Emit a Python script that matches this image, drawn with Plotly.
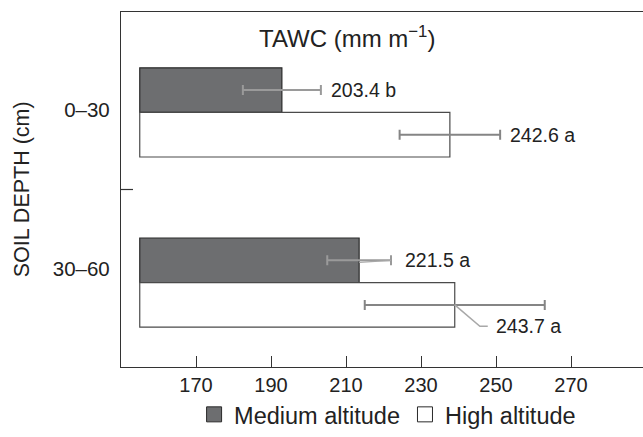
import plotly.graph_objects as go

# ---- data ----
depths = ["0–30", "30–60"]
medium_end = [192.9, 213.5]      # right edge of the dark bars (axis units)
high_end = [237.7, 239.0]        # right edge of the white bars
medium_err = [10.4, 8.5]
high_err = [13.4, 24.0]
medium_labels = ["203.4 b", "221.5 a"]
high_labels = ["242.6 a", "243.7 a"]
bar_base = 155
x_ticks = [170, 190, 210, 230, 250, 270]

# ---- layout constants ----
FONT = "Liberation Sans, Arial, sans-serif"
TXT = "#222222"
BARGAP = 0.476
half = (1 - BARGAP) / 2 / 2      # offset of each bar centre from group centre
groups = list(range(len(depths)))
y_med = [g - half for g in groups]
y_high = [g + half for g in groups]

fig = go.Figure()

fig.add_trace(go.Bar(
    orientation="h", y=groups, x=[e - bar_base for e in medium_end], base=bar_base,
    marker=dict(color="#6d6e70", line=dict(color="#2a2a2a", width=1.2)),
    showlegend=False, name="Medium altitude"))
fig.add_trace(go.Bar(
    orientation="h", y=groups, x=[e - bar_base for e in high_end], base=bar_base,
    marker=dict(color="#ffffff", line=dict(color="#4a4a4a", width=1.2)),
    showlegend=False, name="High altitude"))

# error bars centred on the bar ends
fig.add_trace(go.Scatter(
    x=medium_end, y=y_med, mode="markers", marker=dict(size=1, opacity=0),
    error_x=dict(type="data", array=medium_err, color="#9a9a9a", thickness=2, width=5),
    showlegend=False, hoverinfo="skip"))
fig.add_trace(go.Scatter(
    x=high_end, y=y_high, mode="markers", marker=dict(size=1, opacity=0),
    error_x=dict(type="data", array=high_err, color="#858585", thickness=2, width=5),
    showlegend=False, hoverinfo="skip"))

# legend entries
fig.add_trace(go.Scatter(x=[None], y=[None], mode="markers", name="Medium altitude",
                         marker=dict(symbol="square", size=15, color="#6d6e70",
                                     line=dict(color="#2a2a2a", width=1))))
fig.add_trace(go.Scatter(x=[None], y=[None], mode="markers", name="High altitude",
                         marker=dict(symbol="square", size=15, color="#ffffff",
                                     line=dict(color="#2a2a2a", width=1))))

VAL_FONT = dict(family=FONT, size=19.5, color=TXT)
annotations = []
# value labels
shifts_med = [8, 12]
for i in groups:
    annotations.append(dict(x=medium_end[i] + medium_err[i], y=y_med[i], text=medium_labels[i],
                            xref="x", yref="y", showarrow=False, xanchor="left",
                            yanchor="middle", xshift=shifts_med[i], font=VAL_FONT))
annotations.append(dict(x=high_end[0] + high_err[0], y=y_high[0], text=high_labels[0],
                        xref="x", yref="y", showarrow=False, xanchor="left",
                        yanchor="middle", xshift=8, font=VAL_FONT))
# leader line label for the last one
lx0, ly0 = high_end[1], y_high[1]
lx1, ly1 = lx0 + 6.7, ly0 + 0.125
lx2 = lx1 + 2.1
annotations.append(dict(x=lx2, y=ly1, text=high_labels[1], xref="x", yref="y",
                        showarrow=False, xanchor="left", yanchor="middle", xshift=6,
                        font=VAL_FONT))
shapes = [dict(type="path", xref="x", yref="y",
               path=f"M {lx0},{ly0} L {lx1},{ly1} L {lx2},{ly1}",
               line=dict(color="#a8a8a8", width=1.5))]
# faint leader from the medium 30-60 bar end to its label
mx0, my0 = medium_end[1], y_med[1] + 0.012
mx1 = medium_end[1] + medium_err[1]
shapes.append(dict(type="line", xref="x", yref="y", x0=mx0, y0=my0, x1=mx1, y1=y_med[1],
                   line=dict(color="#a8a8a8", width=1.2)))
# middle tick on the category axis
shapes.append(dict(type="line", xref="paper", yref="y", x0=0, x1=12 / 522,
                   y0=0.453, y1=0.453, line=dict(color="#333333", width=1.2)))

annotations.append(dict(x=0.433, y=0.93, xref="paper", yref="paper",
                        text="TAWC (mm m<sup>−1</sup>)", showarrow=False,
                        xanchor="center", yanchor="middle",
                        font=dict(family=FONT, size=24, color=TXT)))
annotations.append(dict(x=-0.19, y=0.5, xref="paper", yref="paper",
                        text="SOIL DEPTH (cm)", showarrow=False, textangle=-90,
                        xanchor="center", yanchor="middle",
                        font=dict(family=FONT, size=21.5, color=TXT)))

fig.update_layout(
    width=643, height=437,
    margin=dict(l=121, r=0, t=12, b=59),
    paper_bgcolor="white", plot_bgcolor="white",
    barmode="group", bargap=BARGAP, bargroupgap=0,
    font=dict(family=FONT, size=20, color=TXT),
    annotations=annotations, shapes=shapes,
    legend=dict(orientation="h", x=0.14, xanchor="left", y=-0.134, yanchor="middle",
                font=dict(family=FONT, size=23.5, color=TXT), bgcolor="rgba(0,0,0,0)"),
    xaxis=dict(range=[150, 289.2], tickvals=x_ticks, showline=True, mirror=True,
               linecolor="#333333", linewidth=1.3, ticks="inside", ticklen=11,
               tickwidth=1.2, tickcolor="#333333", showgrid=False, zeroline=False,
               tickfont=dict(family=FONT, size=20, color=TXT)),
    yaxis=dict(range=[1.4957, -0.5897], tickvals=[-0.014, 0.92], ticktext=depths,
               showline=True, linecolor="#333333", linewidth=1.3, ticks="",
               showgrid=False, zeroline=False, ticklabelstandoff=6,
               tickfont=dict(family=FONT, size=20.5, color=TXT)),
)

fig.write_html(
    "out.html",
    config={"displayModeBar": False},
    post_script="document.body.style.margin='0';document.body.style.overflow='hidden';",
)
